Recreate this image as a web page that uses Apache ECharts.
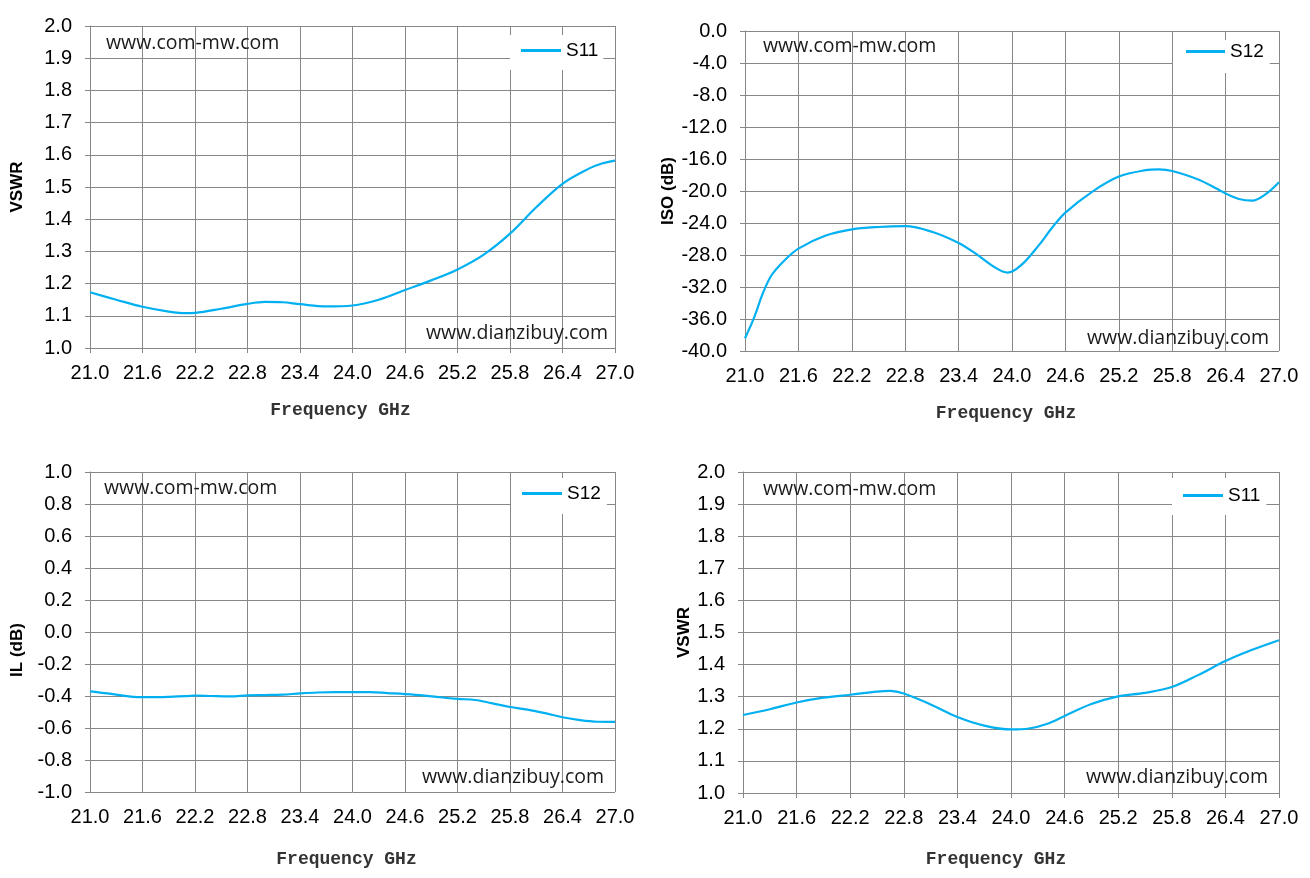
<!DOCTYPE html>
<html>
<head>
<meta charset="utf-8">
<script src="https://cdn.jsdelivr.net/npm/echarts@6/dist/echarts.min.js"></script>
<style>
html, body { margin: 0; padding: 0; background: #fff; }
#main { width: 1310px; height: 878px; }
</style>
</head>
<body>
<div id="main"></div>
<script>
// 频率轴刻度
var freqMin = 21.0;
var freqMax = 27.0;
var freqStep = 0.6;

// 左上 VSWR S11
var freqA = [21.0, 21.3, 21.6, 21.9, 22.1, 22.2, 22.5, 22.8, 23.0, 23.2, 23.4, 23.7, 24.0, 24.3, 24.6, 24.9, 25.2, 25.5, 25.8, 26.1, 26.4, 26.7, 26.85, 27.0];
var vswrA = [1.173, 1.150, 1.128, 1.113, 1.108, 1.109, 1.122, 1.137, 1.143, 1.142, 1.136, 1.129, 1.132, 1.150, 1.180, 1.210, 1.244, 1.290, 1.355, 1.437, 1.510, 1.557, 1.573, 1.582];

// 右上 ISO S12
var freqB = [21.0, 21.1, 21.2, 21.3, 21.45, 21.6, 21.9, 22.2, 22.5, 22.8, 23.1, 23.4, 23.6, 23.8, 23.95, 24.1, 24.3, 24.45, 24.6, 24.9, 25.2, 25.5, 25.65, 25.8, 26.1, 26.4, 26.55, 26.7, 26.85, 27.0];
var isoB = [-38.4, -35.9, -32.8, -30.5, -28.6, -27.2, -25.6, -24.8, -24.5, -24.4, -25.1, -26.5, -27.9, -29.5, -30.2, -29.3, -26.8, -24.6, -22.7, -20.1, -18.2, -17.4, -17.3, -17.5, -18.6, -20.3, -21.0, -21.2, -20.4, -18.9];

// 左下 IL S12
var freqC = [21.0, 21.2, 21.4, 21.5, 21.7, 21.9, 22.1, 22.2, 22.4, 22.6, 22.8, 23.0, 23.2, 23.4, 23.6, 23.8, 24.0, 24.2, 24.4, 24.6, 24.8, 25.0, 25.2, 25.4, 25.6, 25.8, 26.0, 26.2, 26.4, 26.6, 26.8, 27.0];
var ilC = [-0.371, -0.384, -0.399, -0.405, -0.407, -0.405, -0.401, -0.397, -0.400, -0.402, -0.396, -0.394, -0.392, -0.384, -0.378, -0.376, -0.376, -0.376, -0.382, -0.388, -0.396, -0.408, -0.418, -0.425, -0.446, -0.469, -0.485, -0.507, -0.533, -0.551, -0.561, -0.562];

// 右下 VSWR S11
var freqD = [21.0, 21.3, 21.6, 21.9, 22.2, 22.5, 22.65, 22.8, 23.1, 23.4, 23.7, 24.0, 24.2, 24.4, 24.6, 24.9, 25.2, 25.5, 25.8, 26.1, 26.4, 26.7, 27.0];
var vswrD = [1.243, 1.261, 1.282, 1.297, 1.306, 1.316, 1.318, 1.310, 1.276, 1.237, 1.210, 1.198, 1.201, 1.215, 1.240, 1.277, 1.301, 1.312, 1.330, 1.368, 1.411, 1.446, 1.476];

var topMark = 'www.com-mw.com';
var bottomMark = 'www.dianzibuy.com';
var xName = 'Frequency GHz';

var gridColor = '#878787';
var lineColor = '#00B0F0';
var tickFont = '"Liberation Sans Narrow", "Liberation Sans", sans-serif';

function pairs(xs, ys) {
	var out = [];
	for (var i = 0; i < xs.length; i++) {
		out.push([xs[i], ys[i]]);
	}
	return out;
}

function makeX(idx, gap, shift) {
	return {
		type : 'value',
		gridIndex : idx,
		min : freqMin,
		max : freqMax,
		interval : freqStep,
		name : xName,
		nameLocation : 'middle',
		nameGap : gap,
		nameTextStyle : {
			fontFamily : '"Liberation Mono", monospace',
			fontWeight : 'bold',
			fontSize : 18,
			color : '#333',
			padding : [ 0, shift, 0, 0 ]
		},
		axisLine : { lineStyle : { color : gridColor, width : 1 } },
		axisTick : { show : true, length : 5, lineStyle : { color : gridColor } },
		splitLine : { show : true, lineStyle : { color : gridColor, width : 1 } },
		axisLabel : {
			margin : 15,
			fontFamily : tickFont,
			fontSize : 20,
			color : '#000',
			formatter : function(v) { return v.toFixed(1); }
		}
	};
}

function makeY(idx, name, min, max, step, gap, shift) {
	return {
		type : 'value',
		gridIndex : idx,
		min : min,
		max : max,
		interval : step,
		name : name,
		nameLocation : 'middle',
		nameGap : gap,
		nameTextStyle : {
			fontFamily : '"Liberation Sans", Arial, sans-serif',
			fontWeight : 'bold',
			fontSize : 17,
			color : '#000',
			padding : [ 0, shift, 0, 0 ]
		},
		axisLine : { show : true, lineStyle : { color : gridColor, width : 1 } },
		axisTick : { show : true, length : 5, lineStyle : { color : gridColor } },
		splitLine : { show : true, lineStyle : { color : gridColor, width : 1 } },
		axisLabel : {
			margin : 18,
			fontFamily : tickFont,
			fontSize : 20,
			color : '#000',
			formatter : function(v) { return v.toFixed(1); }
		}
	};
}

// 图例白底方框
function makeLegend(name, left, top, pad, w) {
	return {
		data : [ name ],
		left : left,
		top : top,
		orient : 'horizontal',
		icon : 'rect',
		itemWidth : w,
		itemHeight : 3,
		padding : pad,
		backgroundColor : '#fff',
		selectedMode : false,
		textStyle : {
			fontFamily : tickFont,
			fontSize : 19,
			color : '#000'
		}
	};
}

function makeSeries(name, idx, data) {
	return {
		name : name,
		type : 'line',
		xAxisIndex : idx,
		yAxisIndex : idx,
		smooth : 0.35,
		showSymbol : false,
		symbol : 'none',
		lineStyle : { color : lineColor, width : 2.2 },
		itemStyle : { color : lineColor },
		data : data
	};
}

function mark(text, x, y) {
	return {
		type : 'text',
		x : x,
		y : y,
		z : 100,
		style : {
			text : text,
			fill : '#1a1a1a',
			font : '19.5px "Open Sans", sans-serif',
			align : 'left',
			verticalAlign : 'middle'
		}
	};
}

var option = {
	animation : false,
	backgroundColor : '#fff',
	grid : [
		{ left : 90, top : 26, width : 525, height : 322 },
		{ left : 745, top : 31, width : 534, height : 320 },
		{ left : 90, top : 472, width : 525, height : 320 },
		{ left : 743, top : 472, width : 536, height : 321 }
	],
	xAxis : [
		makeX(0, 53, 24),
		makeX(1, 53, 12),
		makeX(2, 58, 12),
		makeX(3, 57, 30)
	],
	yAxis : [
		makeY(0, 'VSWR', 1.0, 2.0, 0.1, 64, 0),
		makeY(1, 'ISO (dB)', -40, 0, 4, 68, 0),
		makeY(2, 'IL (dB)', -1.0, 1.0, 0.2, 64, 36),
		makeY(3, 'VSWR', 1.0, 2.0, 0.1, 49, 0)
	],
	legend : [
		makeLegend('S11', 510, 35, [ 6, 5, 10, 11 ], 40),
		makeLegend('S12', 1173, 40, [ 2, 6, 12, 13 ], 39),
		makeLegend('S12', 511, 478, [ 6, 6, 11, 11 ], 40),
		makeLegend('S11', 1172, 478, [ 8, 6, 10, 11 ], 40)
	],
	graphic : [
		mark(topMark, 106, 43),
		mark(bottomMark, 426, 333),
		mark(topMark, 763, 46),
		mark(bottomMark, 1087, 338),
		mark(topMark, 104, 488),
		mark(bottomMark, 422, 777),
		mark(topMark, 763, 489),
		mark(bottomMark, 1086, 777)
	],
	series : [
		makeSeries('S11', 0, pairs(freqA, vswrA)),
		makeSeries('S12', 1, pairs(freqB, isoB)),
		makeSeries('S12', 2, pairs(freqC, ilC)),
		makeSeries('S11', 3, pairs(freqD, vswrD))
	]
};

var myChart = echarts.init(document.getElementById('main'));
myChart.setOption(option);
</script>
</body>
</html>
